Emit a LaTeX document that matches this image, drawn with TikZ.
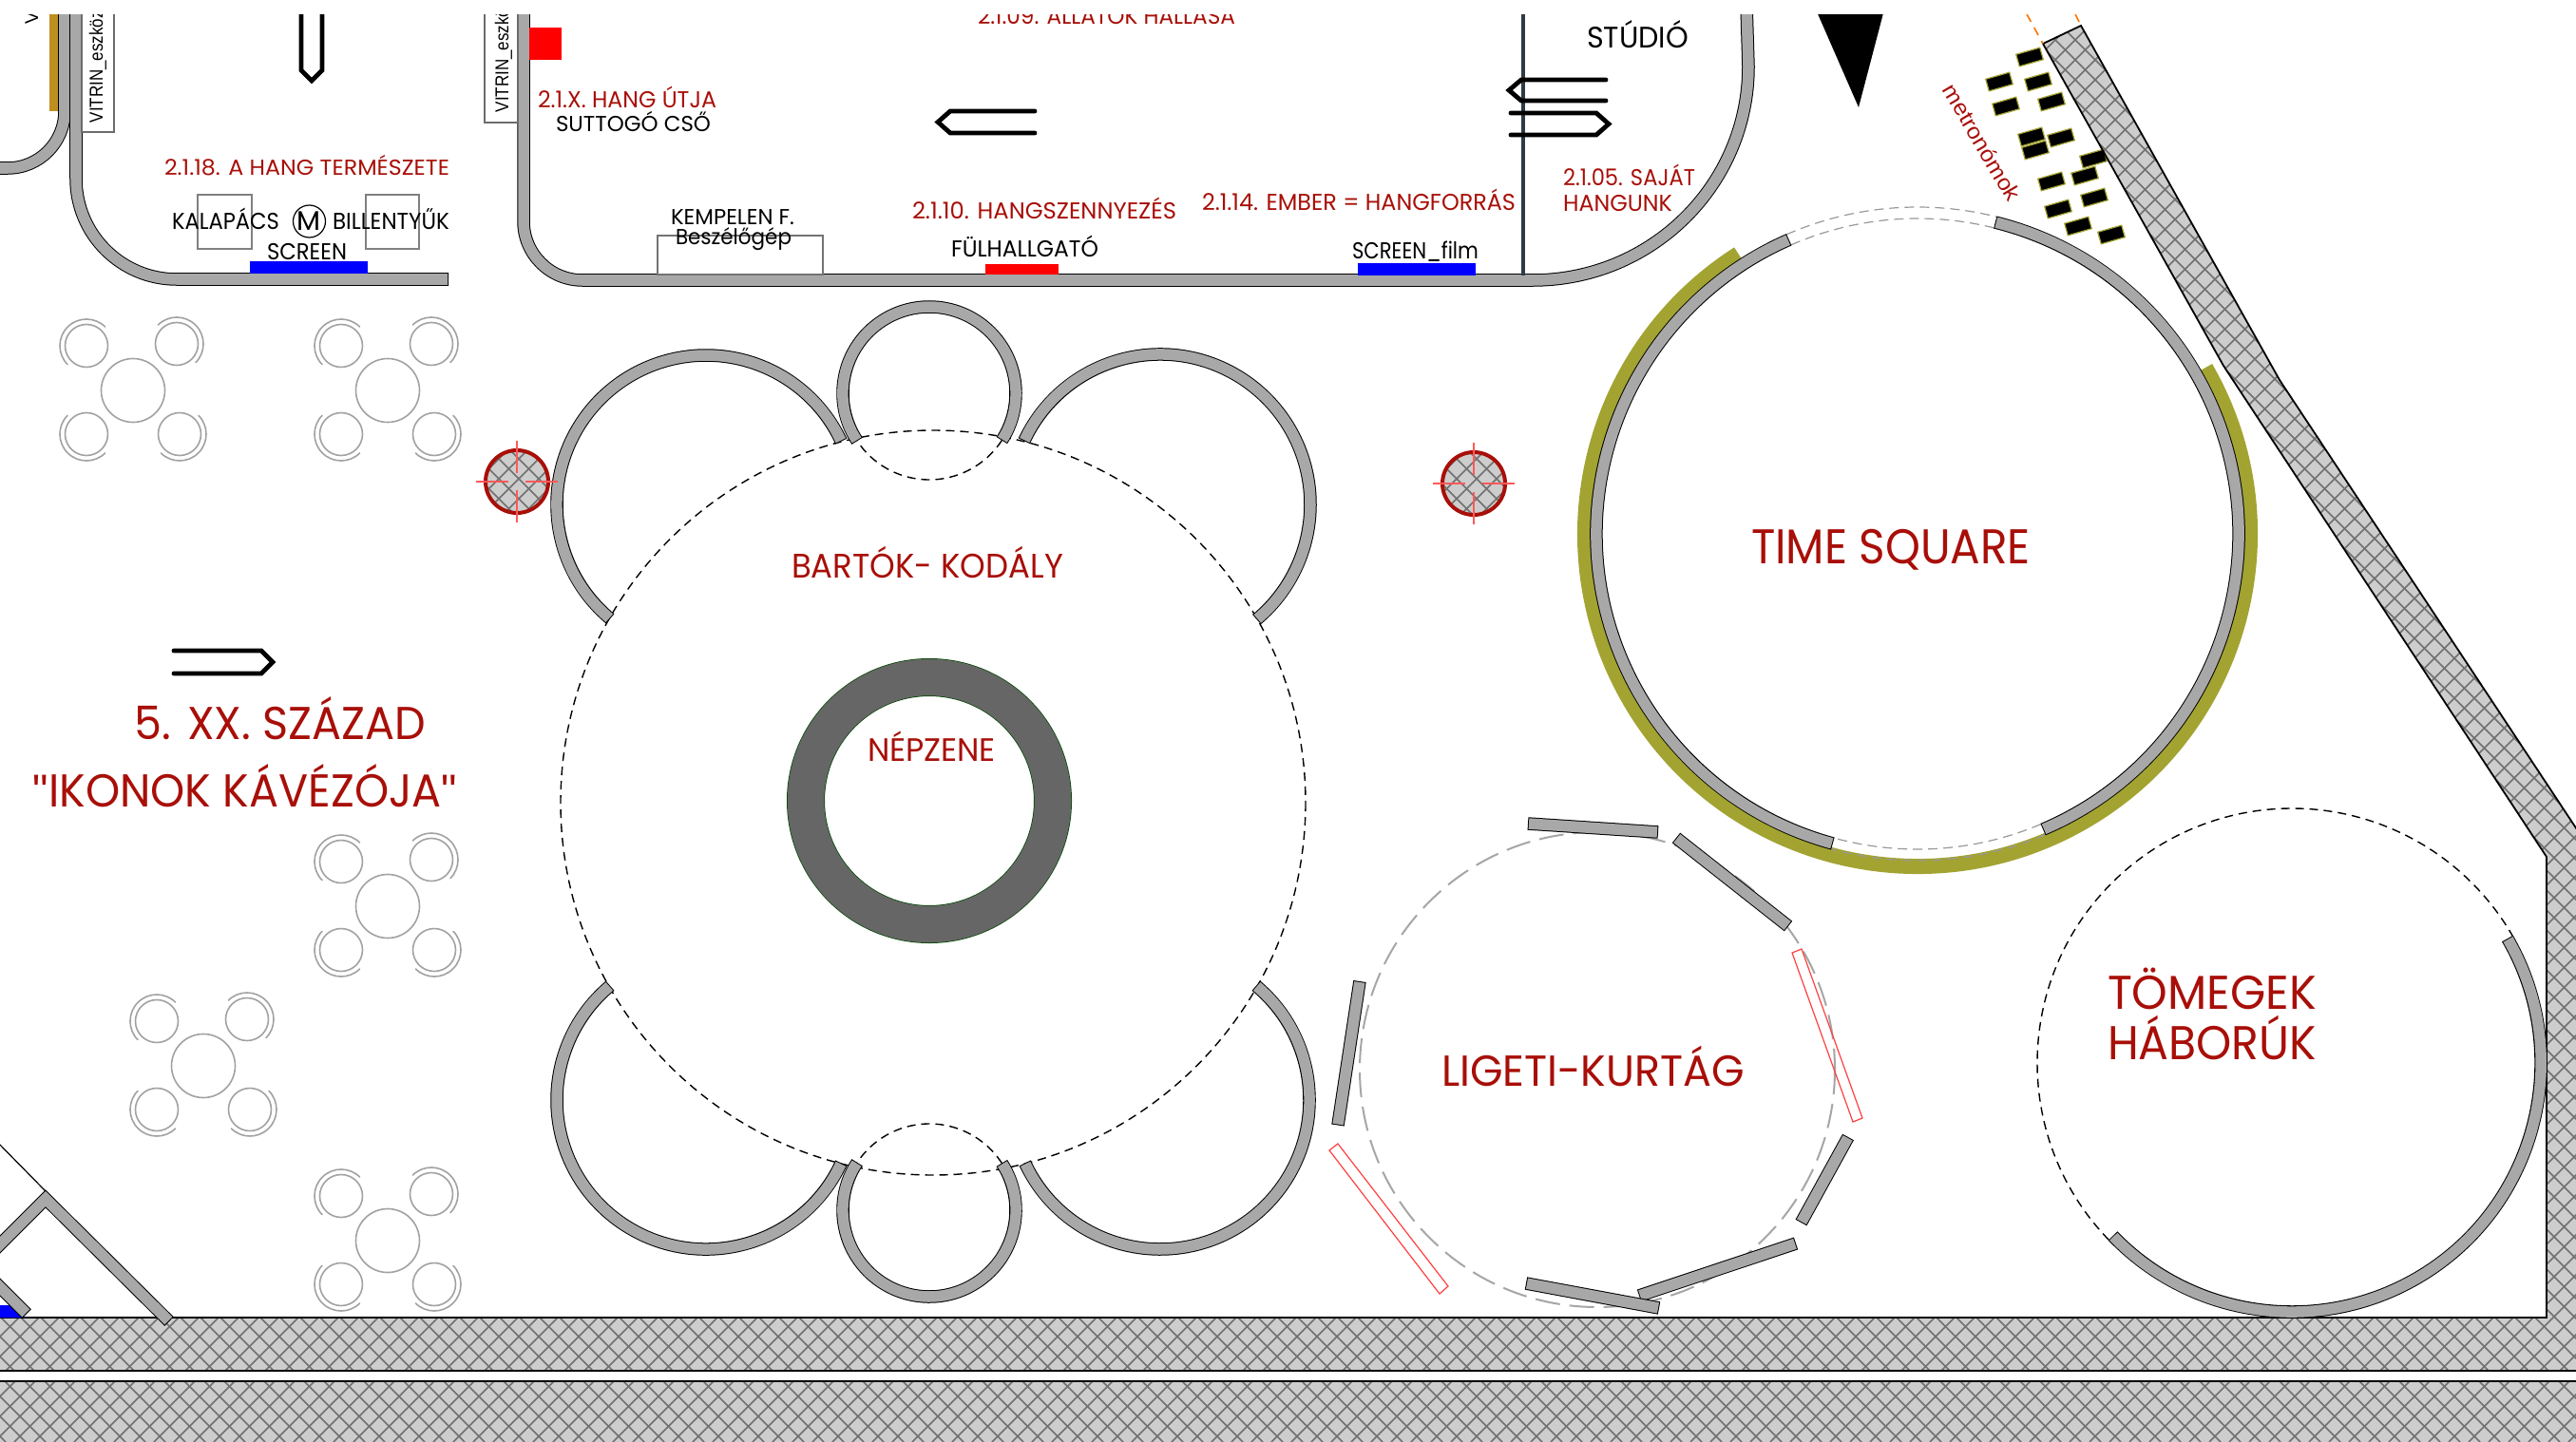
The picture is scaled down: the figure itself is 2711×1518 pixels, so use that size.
\documentclass[tikz,border=0pt]{standalone}
\usepackage{graphicx}
\usepackage{fontspec}
\defaultfontfeatures{}
\setmainfont{Poppins}
\newfontfamily\arialf{Liberation Sans}
\newlength\px \setlength\px{0.01cm}
\newcommand\fit[3]{\resizebox{#1\px}{\height}{\fontsize{#2}{#2}\selectfont #3}}
\definecolor{wallgray}{HTML}{A8A8A8}
\definecolor{labred}{HTML}{A80F08}
\definecolor{ochre}{HTML}{A3A332}
\definecolor{gold}{HTML}{BD8F1E}
\definecolor{meshline}{HTML}{707070}
\definecolor{meshbg}{HTML}{CDCDCD}
\definecolor{tablegray}{HTML}{A2A2A2}
\definecolor{slate}{HTML}{2F3B45}
\definecolor{ringgray}{HTML}{666666}
\tikzset{
  wallo/.style={line width=.135cm,draw=black,line join=miter},
  walli/.style={line width=.115cm,draw=wallgray,shorten <=.01cm,shorten >=.01cm,line join=miter},
  mesh/.style={line width=.016cm,draw=meshline},
  edgeline/.style={line width=.018cm,draw=black},
  tablec/.style={line width=.016cm,draw=tablegray},
  flow/.style={line width=.048cm,draw=black,line cap=round,line join=miter},
  redpanel/.style={line width=.012cm,draw=red!75!white},
  redlab/.style={anchor=base,inner sep=0pt,text=labred},
  blacklab/.style={anchor=base,inner sep=0pt,text=black},
  dashthin/.style={line width=.014cm,draw=black,dash pattern=on .09cm off .06cm},
  gapdash/.style={line width=.012cm,draw=gray!80,dash pattern=on .1cm off .06cm},
  ligdash/.style={line width=.02cm,draw=gray!70,dash pattern=on .26cm off .1cm},
  metro/.style={rectangle,minimum width=.26cm,minimum height=.13cm,inner sep=0pt,fill=black,draw=ochre,line width=.012cm,rotate=16},
  vitrinbox/.style={line width=.02cm,draw=gray!85!black,fill=white},
  vitrintxt/.style={inner sep=0pt,rotate=90,anchor=base west,font=\arialf},
  crosshair/.style={line width=.014cm,draw=red!65!white}
}
\newcommand\wallpath[1]{\draw[wallo] #1; \draw[walli] #1;}
\newcommand\warc[5]{\wallpath{({#1+#3*cos(#4)},{#2+#3*sin(#4)}) arc[start angle=#4,end angle=#5,radius=#3]}}
\newcommand\wseg[4]{\wallpath{(#1,#2) -- (#3,#4)}}
\newcommand\meshfill[1]{%
  \begin{scope}
    \clip #1;
    \fill[meshbg] (-10,-10) rectangle (2730,1530);
    \foreach \k in {-1596,-1575,...,2711}{\draw[mesh] (\k,0) -- ({\k+1518},1518);}
    \foreach \k in {0,21,...,4263}{\draw[mesh] (\k,0) -- ({\k-1518},1518);}
  \end{scope}
  \draw[edgeline] #1;}
\newcommand\tablegroup[2]{%
  \begin{scope}[shift={(#1,#2)}]
    \draw[tablec] (0,0) circle[radius=33.5];
    \draw[tablec] (-49,-47) circle[radius=22.5];
    \draw[tablec] (46,-49) circle[radius=22.5];
    \draw[tablec] (-49,46) circle[radius=22.5];
    \draw[tablec] (49,46) circle[radius=22.5];
    \draw[tablec] ({-49+28*cos(135)},{-47+28*sin(135)}) arc[start angle=135,end angle=315,radius=28];
    \draw[tablec] ({46+28*cos(225)},{-49+28*sin(225)}) arc[start angle=225,end angle=405,radius=28];
    \draw[tablec] ({-49+28*cos(45)},{46+28*sin(45)}) arc[start angle=45,end angle=225,radius=28];
    \draw[tablec] ({49+28*cos(-45)},{46+28*sin(-45)}) arc[start angle=-45,end angle=135,radius=28];
  \end{scope}}
\newcommand\column[2]{%
  \begin{scope}
    \clip (#1,#2) circle[radius=33];
    \fill[meshbg] (#1,#2) circle[radius=33];
    \foreach \k in {-1596,-1575,...,2711}{\draw[mesh] (\k,0) -- ({\k+1518},1518);}
    \foreach \k in {0,21,...,4263}{\draw[mesh] (\k,0) -- ({\k-1518},1518);}
  \end{scope}
  \draw[line width=.04cm,draw=labred] (#1,#2) circle[radius=33];
  \draw[crosshair] ({#1-43},#2) -- ({#1-9},#2) ({#1+9},#2) -- ({#1+43},#2)
                   (#1,{#2-43}) -- (#1,{#2-9}) (#1,{#2+9}) -- (#1,{#2+43});
}
\begin{document}
\begin{tikzpicture}[x=0.01cm,y=-0.01cm]
\useasboundingbox (0,0) rectangle (2711,1518);
\fill[white] (0,0) rectangle (2711,1518);
\clip (0,15) rectangle (2711,1518);

% metronomes (the hatched strip covers part of m9)
\foreach \n/\a/\b in {m1/2136/60,m2/2104/86,m3/2145/86,m4/2111/112,m5/2159/107,m6/2138/144,m7/2142/158,m8/2169/145,m9/2203/167,m10/2194/185,m11/2159/191,m12/2166/220,m13/2204/208,m14/2187/238,m15/2222/247}
  {\node[metro] (\n) at (\a,\b) {};}

% hatched outer walls
\meshfill{(2150,46) -- (2190,27) -- (2399,400) -- (2735,908) -- (2735,1443) -- (-10,1443) -- (-10,1387) -- (2680,1387) -- (2680,902) -- (2340,385) -- cycle}
\meshfill{(-10,1454) rectangle (2730,1530)}
\draw[line width=.016cm,draw=orange!90!red,dash pattern=on .09cm off .07cm] (2133,15) -- (2150,46) (2184,15) -- (2190,27);

% top rooms
\fill[gold] (52,15) rectangle (62,117);
\wallpath{(68,5) -- (68,117) arc[start angle=0,end angle=90,radius=60] -- (-5,177)}
\wallpath{(80,5) -- (80,188) arc[start angle=180,end angle=90,radius=106] -- (472,294)}
\wallpath{(551,5) -- (551,233) arc[start angle=180,end angle=90,radius=62] -- (1613,295) arc[start angle=90,end angle=0,x radius=227,y radius=225] -- (1838,5)}

\draw[vitrinbox] (86,5) rectangle (120,139);
\draw[vitrinbox] (510,5) rectangle (545,129);
\node[vitrintxt] (vit1) at (108,130) {\fit{118}{5.6}{VITRIN\_eszköz}};
\node[vitrintxt] (vit2) at (535,119) {\fit{118}{5.6}{VITRIN\_eszköz}};
\node[vitrintxt] (vit0) at (40,26) {\fit{13}{5.6}{V}};

\fill[red] (557,29) rectangle (591,63);
\draw[line width=.02cm,draw=gray] (208,205) rectangle (265,262);
\draw[line width=.02cm,draw=gray] (385,205) rectangle (441,262);
\draw[line width=.012cm] (325.5,233) circle[x radius=17,y radius=17];
\fill[blue] (263,275) rectangle (387,288);
\draw[line width=.02cm,draw=gray!90!black,fill=white] (692,289) rectangle (866,248);
\fill[red] (1037,278) rectangle (1114,289);
\fill[blue] (1429,277) rectangle (1553,290);
\draw[line width=.035cm,draw=slate] (1603,5) -- (1603,290);

% flow arrows
\draw[flow] (317,5) -- (317,74) -- (328,85) -- (339,74) -- (339,5);
\draw[flow] (1089,117) -- (1000,117) -- (987,128.5) -- (1000,140) -- (1089,140);
\draw[flow] (1690,84) -- (1601,84) -- (1588,95) -- (1601,106) -- (1690,106);
\draw[flow] (1590,119) -- (1680,119) -- (1693,130.5) -- (1680,142) -- (1590,142);
\draw[flow] (183,685) -- (275,685) -- (287,697) -- (275,709) -- (183,709);
\fill[black] (1911,10) -- (1983,10) -- (1956,113) -- cycle;

% tables
\tablegroup{140}{411}
\tablegroup{408}{411}
\tablegroup{408}{954}
\tablegroup{214}{1122}
\tablegroup{408}{1306}

% Bartok-Kodaly
\draw[dashthin] (982,845) circle[radius=392];
\draw[dashthin] ({978+91*cos(33)},{414+91*sin(33)}) arc[start angle=33,end angle=146.5,radius=91];
\draw[dashthin] ({978+91*cos(-33)},{1274+91*sin(-33)}) arc[start angle=-33,end angle=-146.5,radius=91];
\warc{978}{414}{91}{146.5}{393}
\warc{978}{1274}{91}{-33}{213.5}
\warc{743}{531}{157}{130}{335}
\warc{1221}{531}{158}{205}{410}
\warc{743}{1158}{157}{25}{230}
\warc{1221}{1158}{157}{-50}{155}
\draw[line width=.40cm,draw=black!60!green!70!black] (978,843) circle[radius=130];
\draw[line width=.385cm,draw=ringgray] (978,843) circle[radius=130];

\column{544}{507}
\column{1551}{509}

% Time Square
\draw[line width=.16cm,draw=ochre] ({2018+350*cos(330)},{562+350*sin(330)}) arc[start angle=330,end angle=597.4,radius=350];
\draw[gapdash] ({2018+332*cos(246.4)},{562+332*sin(246.4)}) arc[start angle=246.4,end angle=284,radius=332];
\draw[gapdash] ({2018+344*cos(246.4)},{562+344*sin(246.4)}) arc[start angle=246.4,end angle=284,radius=344];
\draw[gapdash] ({2018+332*cos(67)},{562+332*sin(67)}) arc[start angle=67,end angle=105.3,radius=332];
\draw[gapdash] ({2018+344*cos(67)},{562+344*sin(67)}) arc[start angle=67,end angle=105.3,radius=344];
\warc{2018}{562}{338}{284}{427}
\warc{2018}{562}{338}{105.3}{246.4}

% Ligeti-Kurtag
\draw[ligdash] (1681,1126) circle[radius=250];
\wseg{1608}{867}{1745}{876}
\wseg{1764}{882}{1882}{975}
\wseg{1945}{1197}{1895.5}{1287}
\wseg{1890}{1309}{1725}{1364}
\wseg{1606}{1351}{1746}{1377}
\wseg{1431}{1033}{1408}{1184.5}
\draw[redpanel] (1886,1003) -- (1896,999) -- (1960,1177) -- (1950,1181) -- cycle;
\draw[redpanel] (1399,1211) -- (1408,1204) -- (1524,1354) -- (1515,1362) -- cycle;

% Tomegek
\draw[dashthin] ({2412+268*cos(136)},{1119+268*sin(136)}) arc[start angle=136,end angle=330,radius=268];
\warc{2412}{1119}{262}{-30}{136}

% lower-left walls
\fill[blue] (-5,1374) -- (12,1374) -- (26,1387) -- (-5,1387) -- cycle;
\wseg{-5}{1350}{28}{1383}
\wallpath{(-10,1320) -- (48,1262) -- (178,1391)}
\draw[line width=.012cm] (-5,1200) -- (48,1254);

% labels
\node[redlab] (l1) at (323,184) {\fit{300}{6.5}{2.1.18. A HANG TERMÉSZETE}};
\node[blacklab] (l2) at (237.5,241) {\fit{113}{6.9}{KALAPÁCS}};
\node[blacklab] (l3) at (324.5,242) {\fit{25}{8.1}{M}};
\node[blacklab] (l4) at (411.5,241) {\fit{123}{6.9}{BILLENTYŰK}};
\node[blacklab] (l5) at (323,273) {\fit{84}{6.9}{SCREEN}};
\node[redlab] (l6) at (660,113) {\fit{188}{6.9}{2.1.X. HANG ÚTJA}};
\node[blacklab] (l7) at (666.5,139) {\fit{163}{6.5}{SUTTOGÓ CSŐ}};
\node[redlab] (l8) at (1164.5,25) {\fit{271}{6.9}{2.1.09. ÁLLATOK HALLÁSA}};
\node[blacklab] (l9) at (771,236) {\fit{130}{6.5}{KEMPELEN F.}};
\node[blacklab] (l10) at (772,257) {\fit{122}{6.5}{Beszélőgép}};
\node[redlab] (l11) at (1099,230) {\fit{278}{6.9}{2.1.10. HANGSZENNYEZÉS}};
\node[blacklab] (l12) at (1078.5,270) {\fit{155}{6.9}{FÜLHALLGATÓ}};
\node[redlab] (l13) at (1430,221) {\fit{330}{6.9}{2.1.14. EMBER = HANGFORRÁS}};
\node[blacklab] (l14) at (1489.5,272) {\fit{133}{6.9}{SCREEN\_film}};
\node[blacklab] (l15) at (1723.5,51) {\fit{107}{8.9}{STÚDIÓ}};
\node[redlab] (l16) at (1714.5,195) {\fit{139}{6.9}{2.1.05. SAJÁT}};
\node[redlab] (l17) at (1702.5,222) {\fit{115}{6.9}{HANGUNK}};
\node[redlab] (l18) at (976,608) {\fit{286}{10.2}{BARTÓK- KODÁLY}};
\node[redlab] (l19) at (980.5,801) {\fit{135}{9.7}{NÉPZENE}};
\node[redlab] (l20) at (1990,593) {\fit{294}{14.6}{TIME SQUARE}};
\node[redlab] (l21) at (295,778) {\fit{306}{13.8}{5. XX. SZÁZAD}};
\node[redlab] (l22) at (258,849) {\fit{446}{13.8}{{\arialf "}IKONOK KÁVÉZÓJA{\arialf "}}};
\node[redlab] (l23) at (1676.5,1143) {\fit{319}{13}{LIGETI-KURTÁG}};
\node[redlab] (l24) at (2328,1062) {\fit{220}{14.2}{TÖMEGEK}};
\node[redlab] (l25) at (2328,1115) {\fit{220}{14.2}{HÁBORÚK}};
\node[inner sep=0pt,text=labred,rotate=-59.4,font=\arialf] (l26) at (2086,150) {\fit{138}{6.6}{metronómok}};
\end{tikzpicture}
\end{document}
